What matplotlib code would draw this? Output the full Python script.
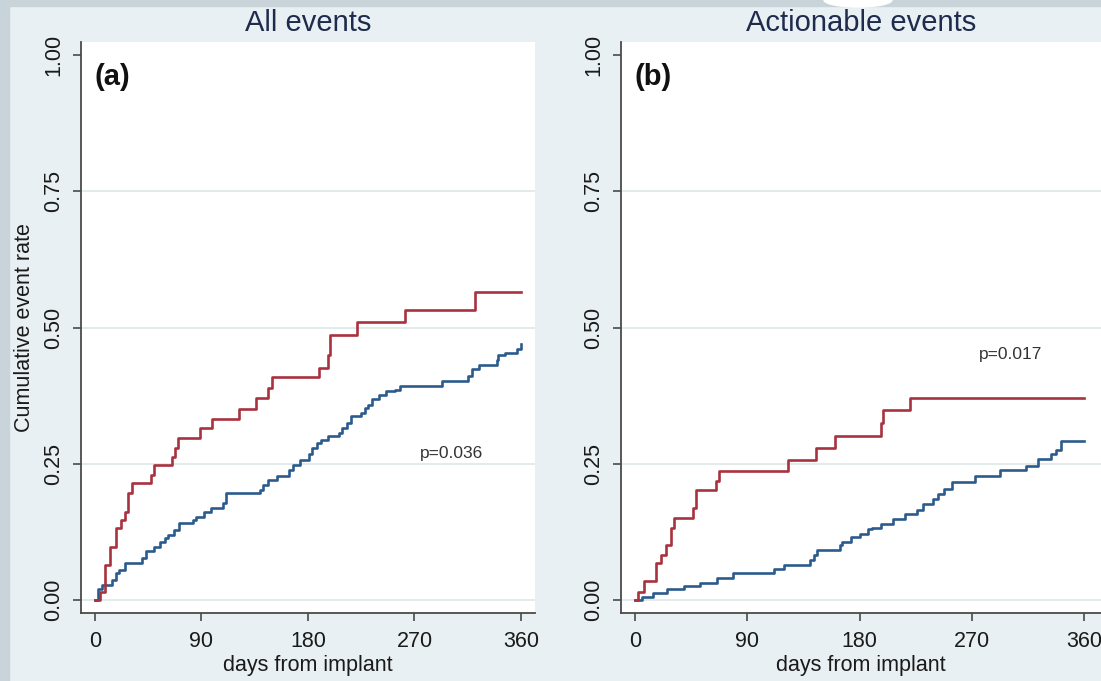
import matplotlib
matplotlib.use('Agg')
import matplotlib.pyplot as plt
from matplotlib.patches import Rectangle, Ellipse

plt.rcParams['font.family'] = ['Liberation Sans', 'DejaVu Sans']

# cumulative event rate curves (step points: day of event, rate after event)
a_red_days = [0, 4.4, 8.9, 13.3, 17.8, 22.2, 25.2, 28.1, 31.1, 47.4, 50.4, 65.2, 68.1, 70.5,
              88.9, 99.3, 121.5, 136.3, 146.7, 149.6, 189.0, 197.0, 199.1, 221.6, 261.6, 321.5, 360]
a_red_rate = [0, 0.015, 0.064, 0.098, 0.132, 0.147, 0.162, 0.196, 0.214, 0.230, 0.248, 0.263, 0.279, 0.297,
              0.316, 0.333, 0.350, 0.371, 0.389, 0.409, 0.426, 0.450, 0.487, 0.510, 0.533, 0.565, 0.565]

a_blue_days = [0, 3.0, 5.9, 14.2, 17.8, 20.7, 25.2, 40.0, 43.0, 50.4, 54.8, 59.3, 62.2, 66.7, 71.1,
               83.0, 85.9, 91.9, 97.8, 108.1, 111.1, 139.3, 142.2, 146.7, 154.1, 164.4, 167.4, 173.3,
               180.7, 183.7, 188.1, 191.1, 197.0, 205.9, 208.9, 213.3, 216.3, 225.2, 228.1, 231.1,
               234.1, 240.0, 245.9, 253.3, 257.8, 293.3, 315.6, 318.5, 324.4, 339.3, 340.7, 346.7,
               357.0, 360]
a_blue_rate = [0, 0.021, 0.028, 0.037, 0.049, 0.055, 0.067, 0.077, 0.089, 0.098, 0.107, 0.113, 0.119,
               0.129, 0.141, 0.147, 0.153, 0.162, 0.168, 0.178, 0.196, 0.202, 0.211, 0.221, 0.227,
               0.239, 0.248, 0.257, 0.267, 0.279, 0.288, 0.294, 0.300, 0.306, 0.316, 0.325, 0.337,
               0.343, 0.352, 0.358, 0.368, 0.377, 0.383, 0.386, 0.392, 0.401, 0.411, 0.423, 0.432,
               0.441, 0.450, 0.453, 0.460, 0.469]

b_red_days = [0, 2.8, 7.0, 16.9, 21.1, 24.7, 28.9, 31.5, 46.4, 49.2, 64.7, 67.5, 122.3, 144.8,
              160.3, 196.9, 199.1, 220.8, 360]
b_red_rate = [0, 0.015, 0.034, 0.067, 0.083, 0.101, 0.132, 0.150, 0.169, 0.202, 0.218, 0.236, 0.257,
              0.279, 0.300, 0.325, 0.348, 0.371, 0.371]

b_blue_days = [0, 5.6, 14.1, 25.3, 39.4, 52.0, 66.1, 78.7, 111.1, 119.5, 140.6, 143.4, 146.2, 164.5,
               165.9, 172.9, 180.0, 187.0, 189.8, 196.9, 206.7, 216.6, 226.4, 230.6, 239.0, 243.2,
               247.5, 254.5, 272.8, 292.5, 313.6, 323.4, 333.3, 337.5, 341.7, 360]
b_blue_rate = [0, 0.006, 0.012, 0.020, 0.025, 0.032, 0.040, 0.049, 0.056, 0.064, 0.074, 0.083, 0.091,
               0.101, 0.107, 0.115, 0.121, 0.130, 0.132, 0.140, 0.148, 0.158, 0.165, 0.176, 0.185,
               0.195, 0.203, 0.216, 0.228, 0.238, 0.246, 0.259, 0.267, 0.276, 0.291, 0.291]

panel_titles = ['All events', 'Actionable events']
panel_tags = ['(a)', '(b)']
p_values = ['p=0.036', 'p=0.017']
p_value_y = [0.268, 0.45]
x_ticks = [0, 90, 180, 270, 360]
y_ticks = [0.0, 0.25, 0.5, 0.75, 1.0]

RED = '#a8323e'
BLUE = '#2b5b8c'
BG = '#e9f0f3'
FRAME = '#c9d4da'
AXIS = '#4a4a4a'
TITLE = '#1f2b4d'

W, H = 1101, 681
fig = plt.figure(figsize=(W / 100, H / 100), dpi=100, facecolor=BG)

# outer frame strips
fig.patches.append(Rectangle((0, 1 - 6 / H), 1, 6 / H, transform=fig.transFigure, color=FRAME, zorder=0))
fig.patches.append(Rectangle((0, 0), 9 / W, 1, transform=fig.transFigure, color=FRAME, zorder=0))
fig.patches.append(Ellipse((858 / W, 1.0), 68 / W, 14 / H, transform=fig.transFigure, color='white', zorder=1))

# panel boxes in pixels: left, right edge of plot region, then x limits
boxes = [(81, 535, -11.6, 371.8), (621, 1101, -11.2, 373.6)]
top, bottom = 42, 613
curves = [((a_red_days, a_red_rate), (a_blue_days, a_blue_rate)),
          ((b_red_days, b_red_rate), (b_blue_days, b_blue_rate))]

for i, (x0, x1, xlo, xhi) in enumerate(boxes):
    ax = fig.add_axes([x0 / W, 1 - bottom / H, (x1 - x0) / W, (bottom - top) / H])
    ax.set_facecolor('white')
    for y in y_ticks[:-1]:
        ax.axhline(y, color='#e2eaec', lw=1.4, zorder=1)

    (rd, rr), (bd, br) = curves[i]
    ax.step(bd, br, where='post', color=BLUE, lw=1.9, zorder=3)
    ax.step(rd, rr, where='post', color=RED, lw=1.9, zorder=3)

    ax.set_xlim(xlo, xhi)
    ax.set_ylim(-0.0239, 1.0239)
    ax.set_xticks(x_ticks)
    ax.set_yticks(y_ticks)
    ax.set_yticklabels(['%.2f' % v for v in y_ticks])
    for side in ['top', 'right']:
        ax.spines[side].set_visible(False)
    for side in ['left', 'bottom']:
        ax.spines[side].set_color(AXIS)
        ax.spines[side].set_linewidth(1.3)
    ax.tick_params(axis='both', direction='out', length=6, width=1.2, color=AXIS,
                   labelsize=15.5, labelcolor='#1a1a1a')
    ax.tick_params(axis='x', pad=7)
    ax.tick_params(axis='y', pad=6, labelrotation=90)
    for lab in ax.get_yticklabels():
        lab.set_va('center')

    ax.set_xlabel('days from implant', fontsize=15.5, color='#1a1a1a', labelpad=2)
    if i == 0:
        ax.set_ylabel('Cumulative event rate', fontsize=15.5, color='#1a1a1a', labelpad=6)

    ax.set_title(panel_titles[i], fontsize=21, color=TITLE, pad=8)
    ax.text(0, 0.96, panel_tags[i], fontsize=21, fontweight='bold', ha='left', va='center', color='#111111')
    ax.text(301, p_value_y[i], p_values[i], fontsize=12.5, ha='center', va='center', color='#333333')

fig.savefig('out.png', dpi=100, facecolor=BG)
